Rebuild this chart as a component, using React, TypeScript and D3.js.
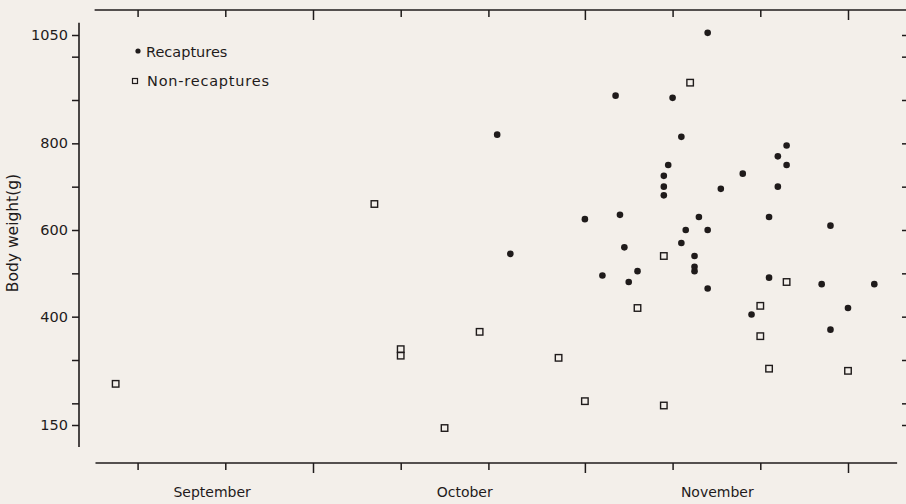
import React, { useEffect, useRef } from "react";
import * as d3 from "d3";

// days counted from 1 September (1 Oct = 31, 1 Nov = 62, 1 Dec = 92)
const recapDay = [52, 53.5, 62, 64, 65.5, 66, 66.5, 67, 68, 71, 71, 71, 71.5, 72, 73, 73, 73.5, 74.5, 74.5, 74.5, 75, 76, 76, 76, 77.5, 80, 81, 83, 83, 84, 84, 85, 85, 89, 90, 90, 92, 95];
const recapWeight = [820, 545, 625, 495, 910, 635, 560, 480, 505, 680, 700, 725, 750, 905, 815, 570, 600, 505, 515, 540, 630, 1055, 465, 600, 695, 730, 405, 630, 490, 700, 770, 795, 750, 475, 370, 610, 420, 475];

const nonRecapDay = [8.5, 38, 41, 41, 46, 50, 59, 62, 68, 71, 71, 74, 82, 82, 83, 85, 92];
const nonRecapWeight = [245, 660, 325, 310, 143, 365, 305, 205, 420, 540, 195, 940, 425, 355, 280, 480, 275];

const monthNames = ["September", "October", "November"];
const monthLabelDay = [19.5, 48.3, 77.1];
const monthStartDays = [31, 62, 92];
const tenDayTicks = [11, 21, 41, 51, 72, 82];
const weightLabels = [150, 400, 600, 800, 1050];
const weightMinor = [200, 300, 500, 700, 900, 1000];

const W = 906;
const H = 504;
const ink = "#1f1b1b";
const font = "'DejaVu Sans', sans-serif";

const App = () => {
  const ref = useRef<SVGSVGElement>(null);

  useEffect(() => {
    const svg = d3.select(ref.current);
    svg.selectAll("*").remove();

    const x = d3.scaleLinear().domain([31, 92]).range([313, 848]);
    const y = d3.scaleLinear().domain([150, 1050]).range([425, 35]);

    svg.append("rect").attr("width", W).attr("height", H).attr("fill", "#f3efea");

    const styleAxis = (g) => {
      g.select(".domain").remove();
      g.selectAll("line").attr("stroke", ink).attr("stroke-width", 1.5);
      g.selectAll("text").attr("fill", ink).attr("font-family", font).attr("font-size", 14.5);
    };

    // top and bottom date axes (ticks point down)
    [10, 463].forEach((ty) => {
      svg.append("g").attr("transform", `translate(0,${ty})`)
        .call(d3.axisBottom(x).tickValues(monthStartDays).tickSize(10).tickFormat(() => ""))
        .call(styleAxis);
      svg.append("g").attr("transform", `translate(0,${ty})`)
        .call(d3.axisBottom(x).tickValues(tenDayTicks).tickSize(7).tickFormat(() => ""))
        .call(styleAxis);
    });

    svg.append("line").attr("x1", x(6.1)).attr("x2", W).attr("y1", 10).attr("y2", 10)
      .attr("stroke", ink).attr("stroke-width", 1.6);
    svg.append("line").attr("x1", x(6.2)).attr("x2", x(97.6)).attr("y1", 463).attr("y2", 463)
      .attr("stroke", ink).attr("stroke-width", 1.6);

    // left weight axis
    svg.append("g").attr("transform", "translate(79,0)")
      .call(d3.axisLeft(y).tickValues(weightLabels).tickSize(7).tickPadding(4).tickFormat(d3.format("d")))
      .call(styleAxis);
    svg.append("g").attr("transform", "translate(79,0)")
      .call(d3.axisLeft(y).tickValues(weightMinor).tickSize(7).tickFormat(() => ""))
      .call(styleAxis);
    svg.append("line").attr("x1", 79).attr("x2", 79).attr("y1", y(1078)).attr("y2", y(99))
      .attr("stroke", ink).attr("stroke-width", 1.6);

    // right edge ticks
    svg.append("g").attr("transform", `translate(${W},0)`)
      .call(d3.axisLeft(y).tickValues([...weightLabels, ...weightMinor]).tickSize(4).tickFormat(() => ""))
      .call(styleAxis);

    // month labels
    svg.append("g").selectAll("text").data(monthNames).join("text")
      .attr("x", (d, i) => x(monthLabelDay[i]))
      .attr("y", 497)
      .attr("text-anchor", "middle")
      .attr("font-family", font).attr("font-size", 14)
      .attr("fill", ink)
      .text((d) => d);

    svg.append("text")
      .attr("transform", "translate(18,233) rotate(-90)")
      .attr("text-anchor", "middle")
      .attr("font-family", font).attr("font-size", 15.5)
      .attr("fill", ink)
      .text("Body weight(g)");

    // points
    svg.append("g").selectAll("circle").data(recapDay).join("circle")
      .attr("cx", (d) => x(d))
      .attr("cy", (d, i) => y(recapWeight[i]))
      .attr("r", 3.3)
      .attr("fill", ink);

    const s = 6.5;
    svg.append("g").selectAll("rect").data(nonRecapDay).join("rect")
      .attr("x", (d) => x(d) - s / 2)
      .attr("y", (d, i) => y(nonRecapWeight[i]) - s / 2)
      .attr("width", s).attr("height", s)
      .attr("fill", "none")
      .attr("stroke", ink).attr("stroke-width", 1.4);

    // legend
    const lg = svg.append("g").attr("font-family", font).attr("font-size", 14.5).attr("fill", ink);
    lg.append("circle").attr("cx", 138).attr("cy", 51).attr("r", 2.6).attr("fill", ink);
    lg.append("text").attr("x", 146).attr("y", 57).text("Recaptures");
    lg.append("rect").attr("x", 132.5).attr("y", 78.5).attr("width", 5).attr("height", 5)
      .attr("fill", "none").attr("stroke", ink).attr("stroke-width", 1.2);
    lg.append("text").attr("x", 147).attr("y", 86).attr("textLength", 122).text("Non-recaptures");
  }, []);

  return (
    <svg
      ref={ref}
      width={W}
      height={H}
      style={{ position: "absolute", left: 0, top: 0, display: "block" }}
    />
  );
};

export default App;
